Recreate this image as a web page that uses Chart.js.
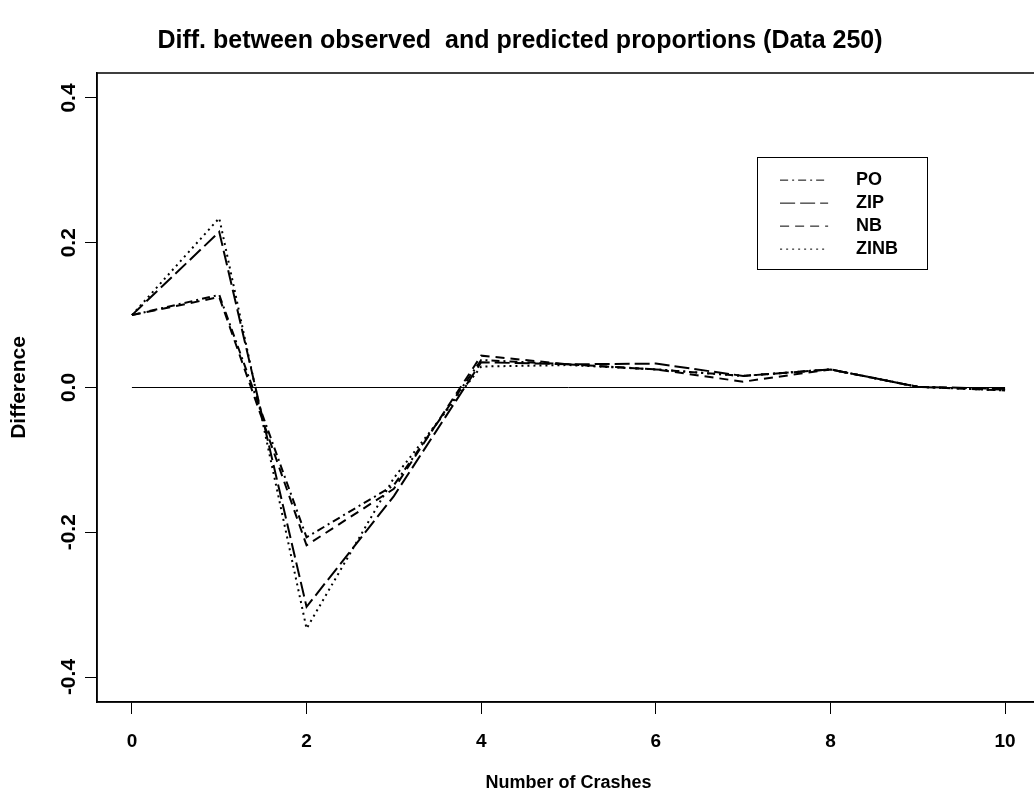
<!DOCTYPE html>
<html>
<head>
<meta charset="utf-8">
<script src="https://cdn.jsdelivr.net/npm/chart.js@4"></script>
<style>
  html, body { margin: 0; padding: 0; background: #fff; overflow: hidden; }
  #wrap { width: 1034px; height: 794px; overflow: hidden; }
</style>
</head>
<body>
<div id="wrap"><canvas id="chart" width="1044" height="794"></canvas></div>
<script>
// number of crashes on the x axis
const crashes = [0, 1, 2, 3, 4, 5, 6, 7, 8, 9, 10];

// observed minus predicted proportions, per model
const diffPO   = [0.100, 0.128, -0.207, -0.135, 0.038, 0.032, 0.025, 0.016, 0.025, 0.001, -0.003];
const diffZIP  = [0.100, 0.215, -0.303, -0.150, 0.035, 0.032, 0.033, 0.016, 0.025, 0.001, -0.002];
const diffNB   = [0.100, 0.125, -0.218, -0.140, 0.044, 0.032, 0.025, 0.008, 0.025, 0.001, -0.004];
const diffZINB = [0.100, 0.234, -0.333, -0.125, 0.029, 0.031, 0.025, 0.016, 0.025, 0.001, -0.004];

// reference line at zero
const zeroX = [0, 10];
const zeroY = [0, 0];

const xTicks = [0, 2, 4, 6, 8, 10];
const yTicks = [-0.4, -0.2, 0.0, 0.2, 0.4];

const FONT = "'Liberation Sans', Arial, Helvetica, sans-serif";

const toPoints = (xs, ys) => xs.map((x, i) => ({ x: x, y: ys[i] }));

function series(label, values, dash) {
  return {
    label: label,
    data: toPoints(crashes, values),
    borderColor: '#000',
    backgroundColor: '#000',
    borderWidth: 2,
    borderDash: dash,
    pointRadius: 0,
    tension: 0,
    fill: false,
  };
}

// legend sample: a short dashed segment, then empty room before the text
function legendSample(dash) {
  const c = document.createElement('canvas');
  c.width = 67;
  c.height = 4;
  const g = c.getContext('2d');
  g.strokeStyle = '#000';
  g.lineWidth = 1;
  g.setLineDash(dash);
  g.beginPath();
  g.moveTo(0, 2.5);
  g.lineTo(48, 2.5);
  g.stroke();
  return c;
}

// legend frame, placed in data coordinates like R's legend(x, y)
const legendFrame = { x0: 7.16, x1: 9.11, y0: 0.319, y1: 0.164 };

const rBox = {
  id: 'rBox',
  afterLayout(chart) {
    const xs = chart.scales.x, ys = chart.scales.y, lg = chart.legend;
    const left = xs.getPixelForValue(legendFrame.x0);
    const top = ys.getPixelForValue(legendFrame.y0);
    lg.left = left + 18;
    lg.top = top + 9;
    lg.right = lg.left + lg.width;
    lg.bottom = chart.chartArea.bottom;
  },
  afterDraw(chart) {
    const { ctx, chartArea: a } = chart;
    const xs = chart.scales.x, ys = chart.scales.y;
    ctx.save();
    ctx.strokeStyle = '#000';
    ctx.lineWidth = 1.5;
    ctx.setLineDash([]);
    ctx.strokeRect(a.left, a.top, a.right - a.left, a.bottom - a.top);
    const l = xs.getPixelForValue(legendFrame.x0), r = xs.getPixelForValue(legendFrame.x1);
    const t = ys.getPixelForValue(legendFrame.y0), b = ys.getPixelForValue(legendFrame.y1);
    ctx.lineWidth = 1;
    ctx.strokeRect(Math.round(l) + 0.5, Math.round(t) + 0.5, Math.round(r - l), Math.round(b - t));
    ctx.restore();
  }
};

const ctx = document.getElementById('chart').getContext('2d');
const chart = new Chart(ctx, {
  type: 'line',
  data: {
    datasets: [
      series('PO', diffPO, [8, 4, 2, 4]),
      series('ZIP', diffZIP, [15, 5]),
      series('NB', diffNB, [9, 6]),
      series('ZINB', diffZINB, [2, 4]),
      {
        label: 'zero',
        data: toPoints(zeroX, zeroY),
        borderColor: '#000',
        borderWidth: 1,
        pointRadius: 0,
        tension: 0,
      },
    ]
  },
  options: {
    responsive: false,
    animation: false,
    layout: { padding: { left: 0, right: 4, top: 0, bottom: 0 } },
    scales: {
      x: {
        type: 'linear',
        min: -0.4,
        max: 10.4,
        afterBuildTicks: (scale) => { scale.ticks = xTicks.map(v => ({ value: v })); },
        afterFit: (scale) => { scale.height = 92; },
        grid: { drawOnChartArea: false, drawTicks: true, tickLength: 12, color: '#000', lineWidth: 1 },
        border: { display: true, color: '#000', width: 1.5 },
        ticks: {
          color: '#000',
          padding: 16,
          maxRotation: 0,
          font: { family: FONT, size: 19, weight: 'bold' },
          callback: (v) => String(v),
        },
        title: {
          display: true,
          text: 'Number of Crashes',
          color: '#000',
          font: { family: FONT, size: 18, weight: 'bold' },
          padding: { top: 0, bottom: 0 },
        },
      },
      y: {
        type: 'linear',
        min: -0.4345,
        max: 0.4345,
        afterBuildTicks: (scale) => { scale.ticks = yTicks.map(v => ({ value: v })); },
        afterFit: (scale) => { scale.width = 97; },
        grid: { drawOnChartArea: false, drawTicks: true, tickLength: 12, color: '#000', lineWidth: 1 },
        border: { display: true, color: '#000', width: 1.5 },
        ticks: {
          color: '#000',
          padding: -2,
          minRotation: 90,
          maxRotation: 90,
          crossAlign: 'center',
          font: { family: FONT, size: 21, weight: 'bold' },
          callback: (v) => Number(v).toFixed(1),
        },
        title: {
          display: true,
          text: 'Difference',
          color: '#000',
          font: { family: FONT, size: 21, weight: 'bold' },
          padding: { top: 7, bottom: 0 },
        },
      },
    },
    plugins: {
      title: {
        display: true,
        text: 'Diff. between observed  and predicted proportions (Data 250)',
        color: '#000',
        font: { family: FONT, size: 25, weight: 'bold' },
        padding: { top: 26, bottom: 17 },
      },
      legend: {
        position: 'chartArea',
        align: 'start',
        labels: {
          usePointStyle: true,
          pointStyleWidth: 67,
          padding: 5,
          color: '#000',
          font: { family: FONT, size: 18, weight: 'bold' },
          filter: (item) => item.text !== 'zero',
          generateLabels: (c) => Chart.defaults.plugins.legend.labels.generateLabels(c)
            .map(l => Object.assign(l, {
              pointStyle: legendSample(c.data.datasets[l.datasetIndex].borderDash || []),
              lineWidth: 1,
            })),
        },
      },
      tooltip: { enabled: false },
    },
  },
  plugins: [rBox],
});
</script>
</body>
</html>
